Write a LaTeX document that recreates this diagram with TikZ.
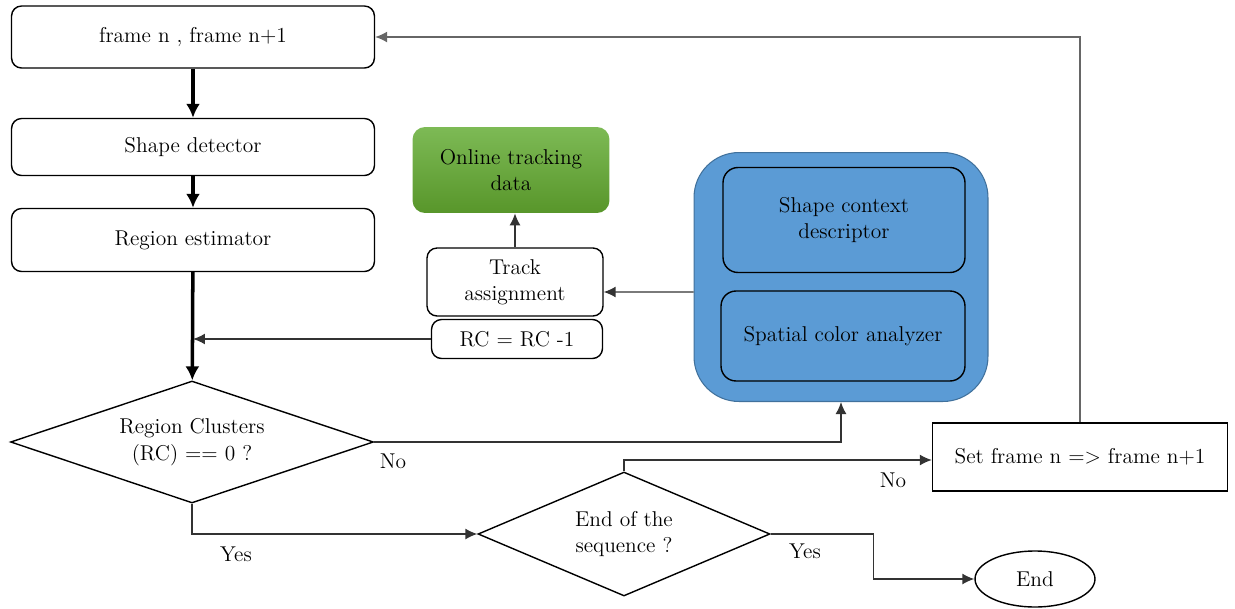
\documentclass[tikz,border=0pt]{standalone}
\usepackage{tikz}
\usetikzlibrary{shapes.geometric, arrows.meta}
\definecolor{boxblue}{RGB}{91,155,213}
\definecolor{boxedge}{RGB}{65,113,156}
\definecolor{grtop}{RGB}{125,186,85}
\definecolor{grbot}{RGB}{88,150,42}
\tikzset{bx/.style  = {rectangle, rounded corners=2mm, draw, line width=0.8pt, fill=white, inner sep=2pt, align=center},
         sq/.style  = {rectangle, draw, line width=0.8pt, fill=white, inner sep=2pt, align=center},
         dm/.style  = {diamond, draw, line width=0.8pt, inner sep=0pt, align=center},
         el/.style  = {ellipse, draw, line width=0.8pt, inner sep=0pt},
         gr/.style  = {rectangle, rounded corners=2.5mm, top color=grtop, bottom color=grbot, draw=none, align=center},
         bl/.style  = {rectangle, rounded corners=9mm, fill=boxblue, draw=boxedge, line width=0.6pt},
         bi/.style  = {rectangle, rounded corners=3mm, fill=boxblue, draw, line width=0.8pt, align=center},
         ln/.style  = {draw=black!80, line width=0.8pt},
         thk/.style = {draw=black, line width=2pt, >={Latex[length=2.8mm, width=2.8mm]}}}

\begin{document}
\begin{tikzpicture}[x=0.02cm, y=-0.02cm, >={Latex[length=2.4mm, width=2.2mm]},
                    font=\fontsize{12.2}{15}\selectfont]
    \useasboundingbox (0,0) rectangle (1235,609);
    % main column
    \node[bx, minimum width=7.26cm, minimum height=1.24cm] (fr) at (193,37)  {frame n , frame n+1};
    \node[bx, minimum width=7.26cm, minimum height=1.14cm] (sd) at (193,147) {Shape detector};
    \node[bx, minimum width=7.26cm, minimum height=1.26cm] (re) at (193,240) {Region estimator};
    \node[dm, aspect=3, minimum width=7.26cm, minimum height=2.44cm] (rcq) at (192,442) {Region Clusters\\(RC) == 0 ?};
    \node[dm, aspect=2.35, minimum width=5.84cm, minimum height=2.48cm] (eos) at (624,534) {End of the\\sequence ?};
    \node[sq, minimum width=5.9cm, minimum height=1.36cm] (nx) at (1080,457) {Set frame n => frame n+1};
    \node[el, minimum width=2.4cm, minimum height=1.12cm] (en) at (1035,579) {End};
    % tracking part
    \node[gr, minimum width=3.94cm, minimum height=1.72cm] (od) at (511,170) {Online tracking\\data};
    \node[bx, minimum width=3.52cm, minimum height=1.36cm] (ta) at (515,282) {Track\\assignment};
    \node[bx, minimum width=3.42cm, minimum height=0.78cm] (rc) at (517,339) {RC = RC -1};
    \node[bl, minimum width=5.88cm, minimum height=4.98cm] (blu) at (841,277) {};
    \node[bi, minimum width=4.84cm, minimum height=2.1cm] (scd) at (844,220) {Shape context\\descriptor};
    \node[bi, minimum width=4.88cm, minimum height=1.8cm] (sca) at (843,336) {Spatial color analyzer};
    % labels
    \node (no1)  at (393,461) {No};
    \node (yes1) at (236,554) {Yes};
    \node (no2)  at (893,480) {No};
    \node (yes2) at (805,551) {Yes};
    % arrows
    \draw[thk, ->] (fr) -- (sd);
    \draw[thk, ->] (sd) -- (re);
    \draw[thk, ->] (re) -- (rcq);
    \draw[ln, ->] (rc.west) -- (rc.west -| re.south);
    \draw[ln, ->] (rcq.east) -| (blu.south);
    \draw[ln, ->] (rcq.south) |- (eos.west);
    \draw[ln, ->] (eos.north) |- ([yshift=-0.6mm]nx.west);
    \draw[ln, ->] (eos.east) -- ++(103,0) |- (en.west);
    \draw[draw=black!60, line width=0.8pt, ->] (nx.north) |- (fr.east);
    \draw[ln, ->] (ta.north) -- (ta.north |- od.south);
    \draw[ln, ->] ([yshift=-3mm]blu.west) -- ([yshift=-2mm]ta.east);
\end{tikzpicture}
\end{document}
